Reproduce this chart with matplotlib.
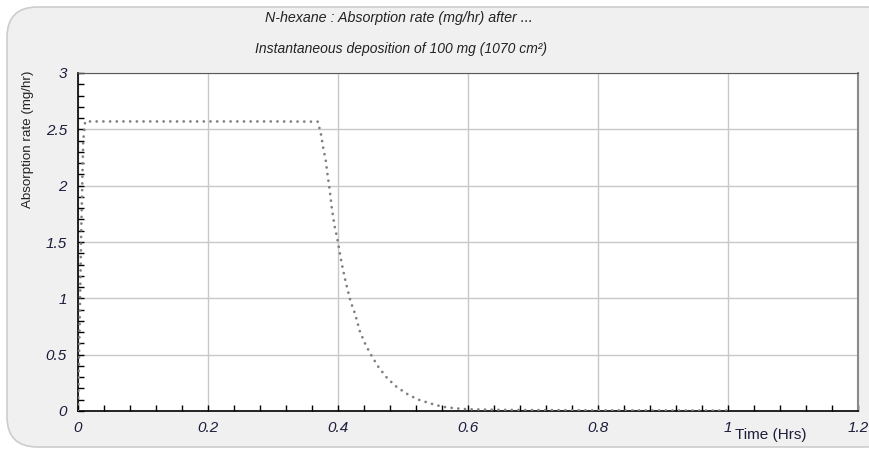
import matplotlib
matplotlib.use("Agg")
import matplotlib.pyplot as plt
from matplotlib.patches import FancyBboxPatch
from matplotlib.ticker import MultipleLocator

# values
time_hrs = [0.0, 0.002, 0.005, 0.008, 0.011, 0.1, 0.2, 0.3, 0.369,
            0.374, 0.3774, 0.381, 0.3836, 0.3866, 0.3903, 0.3944, 0.399, 0.4005,
            0.4057, 0.412, 0.4195, 0.426, 0.4338, 0.4426, 0.4518, 0.462, 0.4738,
            0.4877, 0.5046, 0.522, 0.5415, 0.5605, 0.58, 0.6005, 0.65, 0.7, 0.8,
            0.9, 1.0]
rate_mg_hr = [0.0, 0.6, 1.6, 2.4, 2.57, 2.57, 2.57, 2.57, 2.568,
              2.45, 2.33, 2.23, 2.11, 1.99, 1.81, 1.65, 1.53, 1.48,
              1.31, 1.14, 0.97, 0.867, 0.704, 0.586, 0.488, 0.393, 0.304,
              0.225, 0.157, 0.104, 0.068, 0.038, 0.024, 0.015, 0.01, 0.008, 0.006,
              0.005, 0.004]
x_ticks = [0, 0.2, 0.4, 0.6, 0.8, 1, 1.2]
x_labels = ["0", "0.2", "0.4", "0.6", "0.8", "1", "1.2"]
y_ticks = [0, 0.5, 1, 1.5, 2, 2.5, 3]
y_labels = ["0", "0.5", "1", "1.5", "2", "2.5", "3"]

title1 = "N-hexane : Absorption rate (mg/hr) after ..."
title2 = "Instantaneous deposition of 100 mg (1070 cm²)"

W, H = 869, 450
narrow = ["Liberation Sans Narrow", "Liberation Sans", "DejaVu Sans"]
txt_col = "#1c1c3c"

fig = plt.figure(figsize=(W / 100, H / 100), dpi=100)
fig.patch.set_facecolor("white")

# rounded grey panel behind everything
panel = FancyBboxPatch((7 / W, 3 / H), (W + 20) / W, (H - 10) / H,
                       boxstyle="round,pad=0,rounding_size=0.035",
                       transform=fig.transFigure, facecolor="#f0f0f0",
                       edgecolor="#cdcdcd", linewidth=1.2, mutation_aspect=W / H,
                       zorder=-10)
fig.patches.append(panel)

ax = fig.add_axes([78 / W, (H - 411) / H, 780 / W, 338 / H])
ax.set_facecolor("white")

# round dots: near-zero dash + round cap
ax.plot(time_hrs, rate_mg_hr, color="#808080", linewidth=2.0,
        linestyle=(0, (0.01, 2.4)), dash_capstyle="round", zorder=3)

ax.set_xlim(0, 1.2)
ax.set_ylim(0, 3)
ax.set_xticks(x_ticks)
ax.set_xticklabels(x_labels)
ax.set_yticks(y_ticks)
ax.set_yticklabels(y_labels)
ax.xaxis.set_minor_locator(MultipleLocator(0.04))
ax.yaxis.set_minor_locator(MultipleLocator(0.1))
ax.grid(True, which="major", color="#c8c8c8", linewidth=1.0)
ax.set_axisbelow(True)

ax.tick_params(which="both", direction="in", length=4, width=1, color="black",
               top=False, right=False)
ax.tick_params(axis="x", pad=7)
ax.tick_params(axis="y", pad=8)
for lab in ax.get_xticklabels() + ax.get_yticklabels():
    lab.set_fontfamily(narrow)
    lab.set_fontstyle("italic")
    lab.set_fontsize(11)
    lab.set_color(txt_col)

ax.spines["left"].set_color("black")
ax.spines["bottom"].set_color("black")
ax.spines["left"].set_linewidth(1.2)
ax.spines["bottom"].set_linewidth(1.2)
ax.spines["top"].set_color("#5a5a5a")
ax.spines["right"].set_color("#8a8a8a")
ax.spines["right"].set_linewidth(1.5)

fig.text(399 / W, 1 - 18 / H, title1, ha="center", va="center",
         fontsize=10.3, style="italic", family=narrow, color="#222222")
fig.text(401 / W, 1 - 49 / H, title2, ha="center", va="center",
         fontsize=10, style="italic", family=narrow, color="#222222")
fig.text(28 / W, 1 - 139 / H, "Absorption rate (mg/hr)", ha="center", va="center",
         rotation=90, fontsize=9.6, family=narrow, color="#222222")
fig.text(735 / W, 1 - 435 / H, "Time (Hrs)", ha="left", va="center",
         fontsize=11, family=narrow, color=txt_col)

fig.savefig("out.png", dpi=100, facecolor=fig.get_facecolor())
